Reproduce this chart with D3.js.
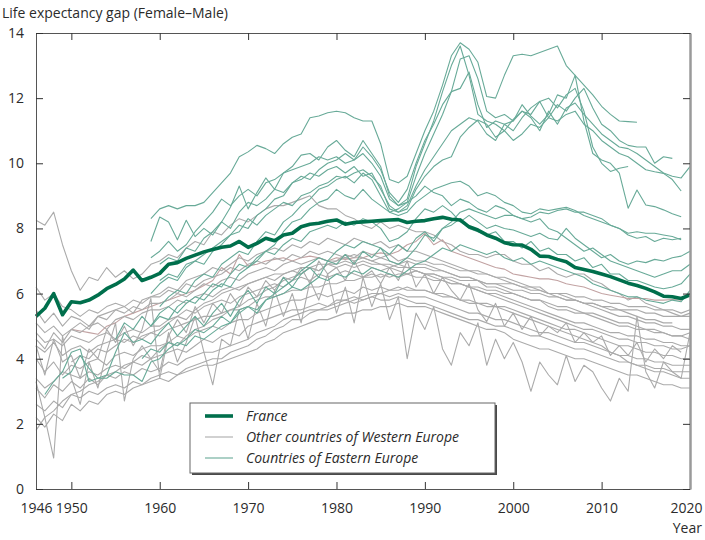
<!DOCTYPE html>
<html>
<head>
<meta charset="utf-8">
<script src="https://cdn.jsdelivr.net/npm/d3@7"></script>
<style>
  body { margin: 0; background: #fff; }
  svg text { font-family: 'Open Sans', sans-serif; fill: #2b2b2b; }
  .axis text { font-size: 14px; }
  .axis line { stroke: #333; }
  .axis path.domain { stroke: #555; }
  .axis.right path.domain { stroke: #9a9a9a; stroke-width: 2.5; }
  .legend text { font-style: italic; font-size: 14px; }
</style>
</head>
<body>
<svg id="chart"></svg>
<script>
// Life expectancy gap (female - male), one value per year from the start year

const franceStart = 1946;
const france = [5.3,5.55,6.0,5.35,5.75,5.72,5.8,5.95,6.15,6.28, 6.45,6.72,6.4,6.5,6.62,6.9,6.95,7.08,7.18,7.28, 7.35,7.42,7.46,7.6,7.42,7.54,7.7,7.62,7.8,7.85, 8.05,8.13,8.16,8.22,8.26,8.13,8.18,8.2,8.22,8.24, 8.26,8.27,8.18,8.22,8.24,8.3,8.34,8.28,8.26,8.05, 7.95,7.8,7.7,7.56,7.5,7.49,7.36,7.15,7.14,7.05, 6.98,6.8,6.74,6.68,6.6,6.52,6.42,6.32,6.25,6.16, 6.05,5.92,5.9,5.85,5.96];

// Other countries of Western Europe
const west01 = [8.25,8.1,8.5,7.5,6.7,6.1,6.5,6.4,6.8,6.5, 6.7,6.45,6.6,6.9,7.0,7.2,7.1,7.4,7.6,7.5, 7.9,7.8,8.1,8.3,8.2,8.4,8.6,8.7,8.7,8.8, 8.9,9.0,8.7,8.6,8.6,8.4,8.3,8.1,8.0,8.2, 8.0,8.1,8.0,7.9,7.9,7.8,7.6,7.5,7.3,7.2, 7.2,7.1,7.2,7.2,7.0,6.9,6.9,6.7,6.8,6.6, 6.5,6.6,6.6,6.4,6.3,6.1,6.0,5.8,5.9,5.7, 5.6,5.5,5.4,5.3,5.4];
const west02 = [4.9,4.85,4.8,4.75,5.0,5.1,5.3,5.4,5.5,5.6, 5.7,5.8,5.9,6.0,6.1,6.25,6.4,6.8,6.6,7.2, 6.85,6.9,7.0,7.05,7.1,7.0,7.1,7.15,7.1,7.0, 7.1,7.05,7.1,7.1,7.2,7.25,7.2,7.3,7.5,7.6, 7.85,7.5,7.65,7.3,7.2,7.1,7.0,6.9,6.8,6.75, 6.6,6.55,6.5,6.45,6.45,6.4,6.3,6.25,6.2,6.1, 6.0,5.95,5.9,5.85,5.85,5.85,5.8,5.8,5.82,5.8];
const west03 = [6.2,5.8,6.0,5.6,5.5,5.3,5.5,5.4,5.6,5.7, 5.6,5.8,5.7,5.9,5.9,6.1,6.0,6.3,6.2,6.4, 6.5,6.6,6.8,6.7,6.9,7.0,6.9,7.1,7.0,7.2, 7.1,7.3,7.2,7.3,7.2,7.1,7.2,7.1,7.0,7.1, 7.0,6.9,7.0,6.9,6.9,6.8,6.7,6.6,6.5,6.5, 6.4,6.2,6.2,6.1,6.0,5.9,5.8,5.8,5.6,5.5, 5.5,5.4,5.4,5.3,5.2,5.1,5.0,5.0,4.9,4.9, 4.8,4.8,4.7,4.7,4.8];
const west04 = [5.5,5.1,5.4,5.0,5.3,5.2,5.0,5.3,5.4,5.5, 5.4,5.6,5.5,5.7,5.7,5.8,6.0,5.9,6.1,6.3, 6.2,6.4,6.5,6.4,6.6,6.7,6.8,6.7,6.9,7.0, 6.9,7.0,7.1,7.0,7.0,7.2,7.1,7.3,7.2,7.1, 7.2,7.0,7.1,7.0,7.0,6.9,6.9,6.8,6.7,6.7, 6.6,6.6,6.5,6.5,6.4,6.3,6.2,6.2,6.0,6.0, 5.9,5.8,5.7,5.7,5.6,5.5,5.5,5.4,5.3,5.2, 5.2,5.1,5.1];
const west05 = [5.1,4.8,5.0,4.7,4.9,4.8,5.0,5.1,4.9,5.2, 5.3,5.2,5.4,5.5,5.5,5.6,5.8,5.7,5.9,6.0, 5.9,6.1,6.2,6.1,6.3,6.4,6.5,6.4,6.6,6.7, 6.6,6.8,6.7,6.9,6.8,6.9,6.8,6.9,6.8,6.7, 6.8,6.7,6.6,6.7,6.6,6.5,6.4,6.3,6.3,6.2, 6.1,6.0,6.0,5.9,5.8,5.7,5.6,5.5,5.4,5.3, 5.2,5.1,5.1,5.0,4.9,4.8,4.8,4.7,4.7,4.6, 4.6,4.5,4.5,4.4,4.4];
const west06 = [4.8,4.5,4.6,4.4,4.7,4.6,4.5,4.7,4.8,4.6, 4.8,4.9,4.8,5.0,5.0,5.2,5.3,5.5,5.4,5.6, 5.7,5.8,5.7,5.9,6.0,6.1,6.2,6.3,6.2,6.4, 6.5,6.4,6.6,6.5,6.6,6.7,6.6,6.5,6.6,6.5, 6.6,6.5,6.6,6.5,6.5,6.4,6.4,6.3,6.3,6.2, 6.2,6.1,6.1,6.0,6.0,5.9,5.8,5.8,5.7,5.6, 5.6,5.5,5.4,5.4,5.3,5.2,5.1,5.1,5.0,4.9, 4.9,4.8,4.7,4.7,4.6];
const west07 = [4.4,4.2,4.5,4.1,4.3,4.4,4.2,4.4,4.5,4.6, 4.5,4.7,4.6,4.8,4.7,4.9,5.0,5.1,5.2,5.3, 5.3,5.4,5.5,5.5,5.6,5.8,5.9,5.9,6.0,6.1, 6.1,6.2,6.2,6.3,6.3,6.4,6.4,6.5,6.5,6.6, 6.5,6.6,6.6,6.7,6.6,6.6,6.5,6.5,6.4,6.4, 6.4,6.3,6.3,6.3,6.3,6.2,6.2,6.1,6.0,6.0, 6.0,5.9,5.9,5.8,5.8,5.7,5.7,5.6,5.6,5.6, 5.5,5.5,5.5,5.4,5.5];
const west08 = [4.0,3.6,3.9,3.5,3.8,3.7,3.9,4.0,3.8,4.1, 4.2,4.1,4.3,4.4,4.4,4.5,4.7,4.6,4.8,4.9, 5.0,4.9,5.1,5.2,5.2,5.4,5.5,5.6,5.7,5.8, 5.8,5.9,6.0,5.9,6.0,6.1,6.0,6.2,6.1,6.2, 6.1,6.2,6.1,6.1,6.1,6.0,6.0,5.9,5.8,5.8, 5.7,5.7,5.6,5.6,5.5,5.4,5.3,5.2,5.1,5.0, 4.9,4.9,4.8,4.7,4.6,4.5,4.4,4.4,4.3,4.2, 4.2,4.1,4.1,4.0,4.0];
const west09 = [3.4,3.1,3.3,3.6,3.5,3.4,3.6,3.5,3.7,3.8, 3.7,3.9,3.8,4.0,4.1,4.2,4.3,4.2,4.4,4.6, 4.5,4.7,4.8,4.7,5.0,5.1,5.2,5.3,5.4,5.5, 5.5,5.6,5.7,5.6,5.8,5.8,5.9,5.8,5.9,6.0, 5.9,6.0,5.9,5.9,5.9,5.8,5.7,5.6,5.5,5.4, 5.4,5.3,5.2,5.2,5.1,5.0,4.9,4.8,4.8,4.7, 4.6,4.5,4.5,4.4,4.3,4.2,4.1,4.1,4.0,4.0, 3.9,3.9,3.8,3.8,3.8];
const west10 = [3.1,2.8,3.2,3.0,3.3,3.1,3.4,3.2,3.5,3.4, 3.6,3.5,3.7,3.6,3.7,3.9,3.8,4.0,4.1,4.2, 4.2,4.3,4.4,4.5,4.6,4.8,4.9,5.0,5.2,5.3, 5.4,5.5,5.5,5.6,5.7,5.8,5.7,5.8,5.9,5.8, 5.8,5.9,5.8,5.7,5.7,5.6,5.5,5.4,5.3,5.2, 5.2,5.1,5.0,5.0,4.9,4.8,4.7,4.7,4.6,4.5, 4.4,4.3,4.3,4.2,4.1,4.0,3.9,3.9,3.8,3.8, 3.7,3.7,3.6,3.6,3.6];
const west11 = [2.6,2.4,2.7,2.5,2.9,2.8,3.0,2.9,3.1,3.2, 3.1,3.3,3.2,3.4,3.5,3.6,3.5,3.7,3.8,3.9, 4.0,4.0,4.2,4.3,4.4,4.6,4.7,4.9,5.0,5.2, 5.2,5.4,5.5,5.5,5.6,5.7,5.8,5.9,6.0,6.0, 6.1,6.1,6.2,6.1,6.1,6.0,5.9,5.9,5.8,5.7, 5.7,5.6,5.6,5.5,5.4,5.3,5.2,5.1,5.0,4.9, 4.8,4.7,4.6,4.5,4.4,4.2,4.1,3.9,3.8,3.7, 3.6,3.6,3.5,3.4,3.4];
const west12 = [2.2,1.9,2.3,2.1,2.6,2.4,2.7,2.6,2.9,3.0, 2.9,3.1,3.2,3.3,3.4,3.3,3.5,3.6,3.7,3.8, 3.8,3.9,4.0,4.1,4.2,4.3,4.5,4.6,4.8,4.9, 5.0,5.1,5.2,5.2,5.3,5.4,5.4,5.5,5.5,5.6, 5.6,5.7,5.6,5.6,5.6,5.5,5.4,5.3,5.2,5.1, 5.0,4.9,4.9,4.8,4.6,4.5,4.4,4.3,4.3,4.2, 4.1,4.0,4.0,3.9,3.8,3.7,3.6,3.5,3.5,3.4, 3.3,3.2,3.2,3.1,3.1];
const west13 = [3.3,2.2,0.95,4.7,3.4,2.6,3.9,3.1,4.2,5.1, 2.7,4.0,4.4,4.0,3.6,4.8,3.9,4.5,5.3,4.2, 3.2,4.6,4.4,5.5,4.6,5.7,5.0,6.1,5.3,6.0, 5.1,6.4,5.8,6.6,5.4,6.2,5.1,6.5,5.6,6.3, 5.2,5.9,4.0,5.4,4.9,5.6,4.3,3.8,4.8,4.4, 5.1,3.8,4.6,4.0,4.5,3.9,3.0,3.9,3.5,3.2, 4.1,3.3,3.8,3.6,3.1,2.7,3.4,3.0,5.3,3.6, 3.1,3.9,3.6,3.4,4.8];
const west14 = [4.4,3.5,4.6,3.9,4.1,3.4,4.3,4.0,4.9,4.5, 5.0,4.4,4.9,5.85,3.4,4.7,5.2,4.8,5.6,5.1, 5.7,5.4,6.0,5.6,6.2,5.9,6.4,6.1,6.5,6.4, 6.8,6.3,7.0,6.6,6.8,6.4,7.0,6.5,6.7,6.3, 6.8,6.4,7.0,6.2,6.6,6.0,6.5,6.1,5.8,6.3, 5.5,5.14,5.7,5.0,5.4,4.9,5.3,4.7,5.0,4.8, 5.1,4.5,4.8,4.5,4.7,4.1,4.4,4.1,4.5,3.9, 4.3,4.0,4.4,4.2];
const west15 = [1.8,2.2,2.4,2.7,2.9,3.0,3.2,3.3,3.5,3.6, 3.8,3.9,4.1,4.0,4.3,4.5,4.4,4.7,4.9,5.0, 5.2,5.3,5.5,5.6,5.8,5.9,6.1,6.2,6.4,6.5, 6.6,6.8,6.7,6.9,7.0,7.1,7.0,7.1,7.0,6.9, 6.9,6.8,6.8,6.7,6.6,6.6,6.5,6.4,6.3,6.2, 6.1,6.0,5.9,5.8,5.7,5.6,5.5,5.4,5.3,5.2, 5.1,5.0,4.9,4.9,4.8,4.7,4.6,4.6,4.5,4.5, 4.4,4.4,4.3,4.3,4.4];
const west16 = [4.6,4.3,4.8,4.5,4.9,5.1,4.9,5.3,5.2,5.5, 5.6,5.4,5.8,5.9,6.0,6.2,6.1,6.4,6.5,6.6, 6.8,6.7,6.9,7.1,7.0,7.2,7.3,7.4,7.3,7.5, 7.4,7.6,7.5,7.7,7.6,7.5,7.7,7.6,7.5,7.6, 7.4,7.5,7.3,7.3,7.2,7.1,7.0,6.9,6.8,6.7, 6.7,6.6,6.5,6.4,6.3,6.2,6.1,6.1,6.0,5.9, 5.8,5.8,5.7,5.6,5.5,5.4,5.3,5.3,5.2,5.1, 5.1,5.0,5.0,4.9,4.9];
const west17 = [3.9,4.1,4.0,4.3,4.2,4.4,4.6,4.5,4.7,4.8, 4.9,5.1,5.3,5.2,5.5,5.7,5.8,6.0,6.1,6.2, 6.3,6.4,6.5,6.6,6.6,6.7,6.8,6.8,6.9,6.9, 6.9,7.0,6.9,7.0,6.9,6.9,6.8,6.9,6.8,6.8, 6.8,6.7,6.7,6.6,6.5,6.5,6.4,6.3,6.3,6.2, 6.1,6.1,6.0,6.0,5.9,5.9,5.8,5.8,5.7,5.7, 5.6,5.6,5.5,5.5,5.5,5.4,5.4,5.3,5.3,5.3, 5.3];
const westStarts = [1946,1950,1946,1946,1946,1946,1946,1946,1946,1946,1946,1946,1946,1946,1946,1946,1950];

// Countries of Eastern Europe
const east01 = [8.3,8.6,8.7,8.6,8.7,8.7,8.8,9.1,9.4,9.7, 10.2,10.35,10.55,10.45,10.3,10.6,10.8,10.9,11.4,11.45, 11.55,11.6,11.55,11.4,11.3,11.3,10.6,9.5,9.4,9.6, 10.3,11.0,11.6,12.4,13.3,13.7,13.5,13.1,12.05,12.0, 12.7,13.3,13.35,13.3,13.4,13.5,13.6,13.0,12.7,12.4, 12.1,11.75,11.5,11.3,11.28,11.26];
const east02 = [7.6,8.35,8.2,7.65,8.25,7.75,8.0,7.8,8.2,8.65, 9.3,8.6,9.1,9.55,9.2,9.7,9.9,10.25,10.3,10.1, 10.5,10.7,10.4,10.2,10.7,10.3,9.9,9.0,8.7,8.9, 9.9,10.6,11.3,12.2,13.0,13.6,12.7,11.5,11.3,11.2, 11.0,11.35,11.6,11.4,11.0,11.6,11.2,11.7,11.85,11.5, 11.2,10.9,10.7,10.5,10.45,10.3,10.1,9.9,9.7,9.6, 9.55,9.9];
const east03 = [7.1,7.3,7.6,7.3,7.5,7.9,8.2,8.5,8.9,8.7, 9.0,9.2,9.0,9.4,9.5,9.7,9.8,9.9,10.0,10.2, 10.1,10.2,10.0,10.1,10.3,10.0,9.6,8.9,8.7,8.8, 9.6,10.3,10.9,11.5,12.2,12.3,12.8,11.8,11.1,11.3, 11.2,11.0,11.4,11.7,11.9,12.0,11.7,12.1,12.3,11.6, 10.5,10.0,9.75,9.85,9.9];
const east04 = [6.4,6.6,6.5,6.9,7.0,7.2,7.4,7.6,7.8,7.9, 8.3,8.1,8.4,8.6,8.8,8.7,9.0,9.1,9.3,9.4, 9.6,9.55,9.7,9.8,9.6,9.3,8.6,8.5,8.7,9.3, 9.8,10.2,10.6,11.0,11.2,11.4,11.3,10.9,10.7,11.2, 11.3,11.6,11.5,11.9,11.4,11.8,11.6,12.0,12.3,11.7, 11.2,11.0,10.7,10.55,10.5,10.5,10.0,10.2,10.15];
const east05 = [6.0,6.3,6.5,6.4,6.8,7.0,6.9,7.3,7.5,7.8, 8.1,8.0,8.4,8.6,8.9,9.0,9.4,9.6,9.5,9.8, 10.0,10.1,10.3,10.1,10.5,10.2,9.8,9.1,8.8,9.2, 10.0,10.7,11.2,11.8,12.2,13.2,13.3,12.6,11.6,11.4, 11.5,11.3,11.8,11.45,11.2,11.5,12.1,12.0,12.7,11.3, 10.3,10.1,10.0,9.7,8.62,9.18,8.72,8.67,8.57,8.45, 8.36];
const east06 = [5.6,5.9,6.1,6.0,6.4,6.6,6.5,6.9,7.1,7.3, 7.2,7.6,7.9,7.8,8.2,8.4,8.7,8.9,9.2,9.3, 9.5,9.6,9.4,9.7,9.5,9.0,8.5,8.4,8.5,8.8, 9.0,9.2,9.3,9.4,9.45,9.3,9.0,9.1,9.0,8.8, 8.7,8.5,8.45,8.6,8.55,8.6,8.65,8.55,8.4,8.3, 8.2,8.1,8.0,7.85,7.9,7.85,7.85,7.8,7.75,7.65];
const east07 = [5.0,5.3,5.2,5.6,5.8,5.7,6.0,6.3,6.2,6.6, 6.9,6.8,7.1,7.3,7.2,7.5,7.7,7.6,7.9,8.0, 8.1,8.0,8.2,8.1,8.3,8.2,8.0,7.6,7.7,7.9, 8.3,8.6,8.5,8.7,8.5,8.2,8.4,8.2,8.0,8.1, 8.0,7.95,7.85,7.75,7.85,7.7,7.65,8.0,7.7,7.5, 7.3,7.1,7.2,7.0,6.9,7.0,6.95,7.05,7.0,7.1, 7.15,7.3];
const east08 = [2.9,3.3,3.6,4.2,4.3,3.3,3.4,3.5,4.2,4.8, 4.5,4.6,4.45,4.8,5.1,4.7,5.0,5.3,5.0,5.4, 5.7,5.3,5.8,6.1,5.7,6.2,6.0,6.5,6.2,6.6, 6.8,6.5,7.0,6.9,7.2,6.9,7.3,7.1,7.4,7.2, 7.5,7.3,7.7,7.9,7.6,8.0,8.1,8.3,8.0,7.9, 7.8,7.9,7.6,7.6,7.4,7.6,7.3,7.4,7.2,7.2, 7.0,7.1,6.8,6.9,6.6,6.6,6.4,6.4,6.3,6.2, 6.15,6.2,6.3,6.6];
const east09 = [3.4,3.6,4.1,3.7,3.4,3.4,3.6,3.5,3.5,3.3, 3.9,4.0,4.3,4.5,4.4,4.7,4.6,4.8,5.0,5.1, 5.4,5.6,5.5,5.8,6.0,6.2,6.4,6.7,6.9,7.1, 7.0,7.3,7.5,7.4,7.6,7.5,7.4,7.0,6.9,7.1, 7.4,7.8,7.7,8.0,8.2,8.5,8.6,8.5,8.4,8.3, 8.4,8.4,8.3,8.35,8.5,8.45,8.55,8.6,8.5,8.5, 8.4,8.3,8.1,8.0,7.8,7.7,7.75,7.6,7.7,7.65, 7.7];
const east10 = [4.0,4.3,4.2,4.5,4.4,4.6,4.9,4.8,5.0,5.3, 5.1,5.5,5.6,5.4,5.8,5.9,6.0,6.2,6.1,6.3, 6.5,6.4,6.6,6.5,6.7,6.6,6.8,6.7,6.6,6.5, 6.7,6.9,7.0,7.2,7.4,7.3,7.5,7.4,7.3,7.2, 7.3,7.1,7.0,7.1,6.9,7.0,6.9,6.8,6.7,6.6, 6.5,6.3,6.2,6.1,6.0,5.9,5.9,5.8,5.75,5.7, 5.8,5.75,6.1];
const east11 = [4.6,5.1,4.9,5.3,5.0,5.4,5.6,5.4,5.7,5.9, 5.8,6.1,6.3,6.2,6.6,6.8,7.0,7.3,7.5,7.9, 8.2,8.3,8.6,8.8,8.9,9.2,9.0,8.9,9.2,8.9, 8.7,8.5,8.6,8.8,9.0,9.3,9.1,9.0,8.7,8.9, 8.8,8.6,8.5,8.7,8.6,8.4,8.3,8.2,8.3,8.0, 7.9,7.7,7.5,7.3,7.4,7.2,7.0,6.9,6.8,6.7, 6.6,6.5,6.6,6.7,6.7,6.9];
const east12 = [6.9,7.1,7.0,7.4,7.3,7.7,7.9,8.2,8.0,8.5, 8.8,8.7,8.9,9.2,9.1,9.4,9.5,9.7,9.6,9.8, 9.9,9.7,9.9,9.6,9.7,9.2,8.7,8.5,8.6,9.2, 9.6,9.9,10.1,10.2,10.8,11.1,11.33,11.2,10.8,11.0, 10.7,10.9,11.2,11.1,11.4,11.3,11.5,11.6,11.2,11.0, 10.7,10.5,10.3,10.2,10.0,9.8,9.74,9.69,9.5,9.15];
const eastStarts = [1959,1959,1959,1960,1959,1960,1959,1947,1949,1958,1955,1960];

const xTicks = [1946,1950,1960,1970,1980,1990,2000,2010,2020];
const yTicks = [0,2,4,6,8,10,12,14];
const legendLabels = ['France', 'Other countries of Western Europe', 'Countries of Eastern Europe'];

// tables built from the arrays above
const toPoints = (start, values) => values.map((v, i) => ({ year: start + i, gap: v }));
const westValues = [west01, west02, west03, west04, west05, west06, west07, west08, west09,
  west10, west11, west12, west13, west14, west15, west16, west17];
const eastValues = [east01, east02, east03, east04, east05, east06, east07, east08, east09,
  east10, east11, east12];
const westTable = westValues.map((v, i) => ({ id: 'west' + (i + 1), points: toPoints(westStarts[i], v) }));
const eastTable = eastValues.map((v, i) => ({ id: 'east' + (i + 1), points: toPoints(eastStarts[i], v) }));
const franceTable = [{ id: 'france', points: toPoints(franceStart, france) }];

class GapChart {
  constructor(_config) {
    this.config = {
      parentElement: _config.parentElement,
      containerWidth: _config.containerWidth || 705,
      containerHeight: _config.containerHeight || 540,
      margin: _config.margin || { top: 33, bottom: 51, right: 15, left: 36 },
      colors: _config.colors
    };
    this.initVis();
  }

  initVis() {
    let vis = this;
    vis.width = vis.config.containerWidth - vis.config.margin.left - vis.config.margin.right;
    vis.height = vis.config.containerHeight - vis.config.margin.top - vis.config.margin.bottom;

    vis.xScale = d3.scaleLinear()
      .domain([1946, 2020])
      .range([0, vis.width]);

    vis.yScale = d3.scaleLinear()
      .domain([0, 14])
      .range([vis.height, 0]);

    vis.svg = d3.select(vis.config.parentElement)
      .attr('width', vis.config.containerWidth)
      .attr('height', vis.config.containerHeight);

    vis.chart = vis.svg.append('g')
      .attr('transform', `translate(${vis.config.margin.left},${vis.config.margin.top})`);

    // title
    vis.svg.append('text')
      .attr('x', 2)
      .attr('y', 18)
      .style('font-size', '14px')
      .text('Life expectancy gap (Female\u2013Male)');

    vis.line = d3.line()
      .x(d => vis.xScale(d.year))
      .y(d => vis.yScale(d.gap));
  }

  renderVis() {
    let vis = this;
    const c = vis.config.colors;

    const drawGroup = (cls, rows, color, width) => {
      vis.chart.append('g').attr('class', cls)
        .selectAll('path')
        .data(rows)
        .join('path')
          .attr('fill', 'none')
          .attr('stroke', d => d.id === 'west2' ? c.rose : color)
          .attr('stroke-width', width)
          .attr('stroke-linejoin', 'round')
          .attr('d', d => vis.line(d.points));
    };

    drawGroup('west', westTable, c.west, 1.1);
    drawGroup('east', eastTable, c.east, 1.1);
    drawGroup('france', franceTable, c.france, 3.6);

    // frame axes
    vis.xAxisG = vis.chart.append('g')
      .attr('class', 'axis x-axis')
      .attr('transform', `translate(0,${vis.height})`)
      .call(d3.axisBottom(vis.xScale).tickValues(xTicks).tickFormat(d3.format('d'))
        .tickSizeInner(-7).tickSizeOuter(0).tickPadding(14));

    // keep the last year label inside the page
    vis.xAxisG.selectAll('.tick text')
      .filter(d => d === 2020)
      .attr('dx', -4);

    vis.chart.append('g')
      .attr('class', 'axis top')
      .call(d3.axisTop(vis.xScale).tickValues(xTicks.slice(1)).tickFormat('')
        .tickSizeInner(-7).tickSizeOuter(0));

    vis.chart.append('g')
      .attr('class', 'axis y-axis')
      .call(d3.axisLeft(vis.yScale).tickValues(yTicks).tickFormat(d3.format('d'))
        .tickSizeInner(-7).tickSizeOuter(0).tickPadding(12));

    vis.chart.append('g')
      .attr('class', 'axis right')
      .attr('transform', `translate(${vis.width},0)`)
      .call(d3.axisRight(vis.yScale).tickValues(yTicks).tickFormat('')
        .tickSizeInner(-7).tickSizeOuter(0));

    vis.chart.append('text')
      .attr('x', vis.width + 12)
      .attr('y', vis.height + 44)
      .style('text-anchor', 'end')
      .style('font-size', '14px')
      .text('Year');

    // legend
    const lg = vis.svg.append('g').attr('class', 'legend')
      .attr('transform', 'translate(190,403)');
    lg.append('rect')
      .attr('x', 2).attr('y', 2).attr('width', 305).attr('height', 70)
      .attr('fill', '#4a4a4a');
    lg.append('rect')
      .attr('width', 305).attr('height', 70)
      .attr('fill', '#fff').attr('stroke', '#666').attr('stroke-width', 1);

    const legendStyles = [[c.france, 3.6], [c.west, 1.1], [c.east, 1.1]];
    legendLabels.forEach((label, i) => {
      const y = 13 + i * 21;
      lg.append('line')
        .attr('x1', 15).attr('x2', 43)
        .attr('y1', y).attr('y2', y)
        .attr('stroke', legendStyles[i][0])
        .attr('stroke-width', legendStyles[i][1]);
      lg.append('text')
        .attr('x', 56).attr('y', y + 5)
        .text(label);
    });
  }
}

const chart = new GapChart({
  parentElement: '#chart',
  colors: { france: '#006f4c', west: '#ababab', east: '#68aa98', rose: '#c2a3a3' }
});
chart.renderVis();
</script>
</body>
</html>
